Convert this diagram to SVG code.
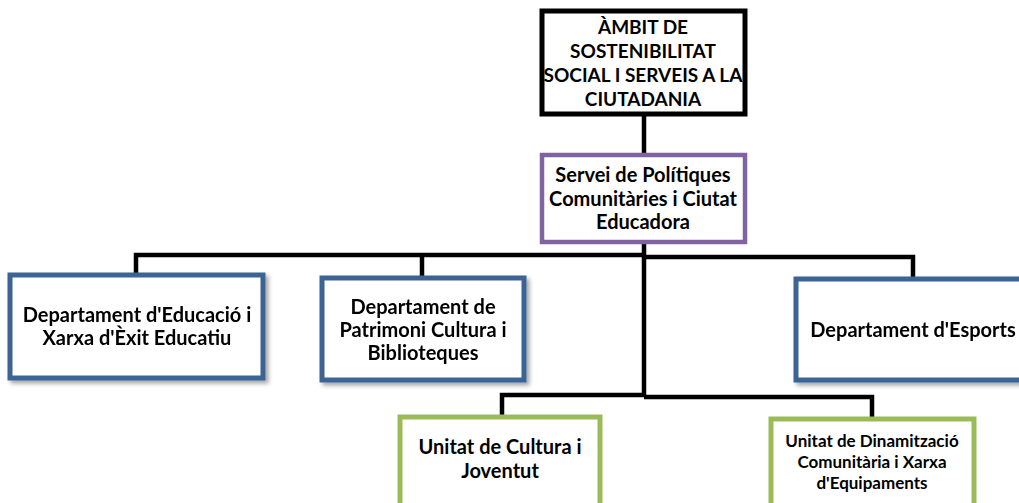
<svg xmlns="http://www.w3.org/2000/svg" width="1019" height="503" viewBox="0 0 1019 503">
<defs>
<style>
text{font-family:Lato,"Liberation Sans",sans-serif;font-weight:bold;fill:#000;text-anchor:middle}
.c{font-size:19px}
.t{font-size:20px}
.s{font-size:17px}
.box{fill:#fff}
.blk{stroke:#000;stroke-width:5}
.pur{stroke:#8064a2;stroke-width:4.5}
.blu{stroke:#3a6494;stroke-width:5}
.grn{stroke:#9bbb59;stroke-width:5}
.ln{fill:none;stroke:#000;stroke-width:4.5}
</style>
<filter id="sh" x="-5%" y="-5%" width="115%" height="120%">
<feDropShadow dx="3" dy="3" stdDeviation="2" flood-color="#000" flood-opacity="0.35"/>
</filter>
</defs>
<g id="connectors">
<line class="ln" x1="644" y1="115" x2="644" y2="154"/>
<path class="ln" d="M644 243 V396"/>
<path class="ln" d="M136 273 V255 H644"/>
<path class="ln" d="M422 276 V255"/>
<path class="ln" d="M644 257 H913 V277"/>
<path class="ln" d="M502 415 V395 H644"/>
<path class="ln" d="M644 397 H872 V418"/>
</g>
<g id="ambit">
<rect class="box blk" x="542" y="11" width="203" height="103"/>
<text class="c" x="643" y="34">ÀMBIT DE</text>
<text class="c" x="643" y="58">SOSTENIBILITAT</text>
<text class="c" x="643" y="82">SOCIAL I SERVEIS A LA</text>
<text class="c" x="643" y="106">CIUTADANIA</text>
</g>
<g id="servei">
<rect class="box pur" x="542" y="155" width="203" height="87"/>
<text class="t" x="643" y="182">Servei de Polítiques</text>
<text class="t" x="643" y="206">Comunitàries i Ciutat</text>
<text class="t" x="643" y="229">Educadora</text>
</g>
<g id="educacio" filter="url(#sh)">
<rect class="box blu" x="10" y="275" width="253" height="103"/>
<text class="t" x="137" y="322">Departament d'Educació i</text>
<text class="t" x="137" y="345">Xarxa d'Èxit Educatiu</text>
</g>
<g id="patrimoni" filter="url(#sh)">
<rect class="box blu" x="322" y="278" width="202" height="102"/>
<text class="t" x="423" y="314">Departament de</text>
<text class="t" x="423" y="337">Patrimoni Cultura i</text>
<text class="t" x="423" y="360">Biblioteques</text>
</g>
<g id="esports" filter="url(#sh)">
<rect class="box blu" x="796" y="279" width="240" height="101"/>
<text class="t" x="913" y="337">Departament d'Esports</text>
</g>
<g id="cultura">
<rect class="box grn" x="400" y="417" width="200" height="100"/>
<text class="t" x="500" y="454">Unitat de Cultura i</text>
<text class="t" x="500" y="478">Joventut</text>
</g>
<g id="dinamitzacio">
<rect class="box grn" x="771" y="419" width="203" height="100"/>
<text class="s" x="872" y="447">Unitat de Dinamització</text>
<text class="s" x="872" y="468">Comunitària i Xarxa</text>
<text class="s" x="872" y="489">d'Equipaments</text>
</g>
</svg>
